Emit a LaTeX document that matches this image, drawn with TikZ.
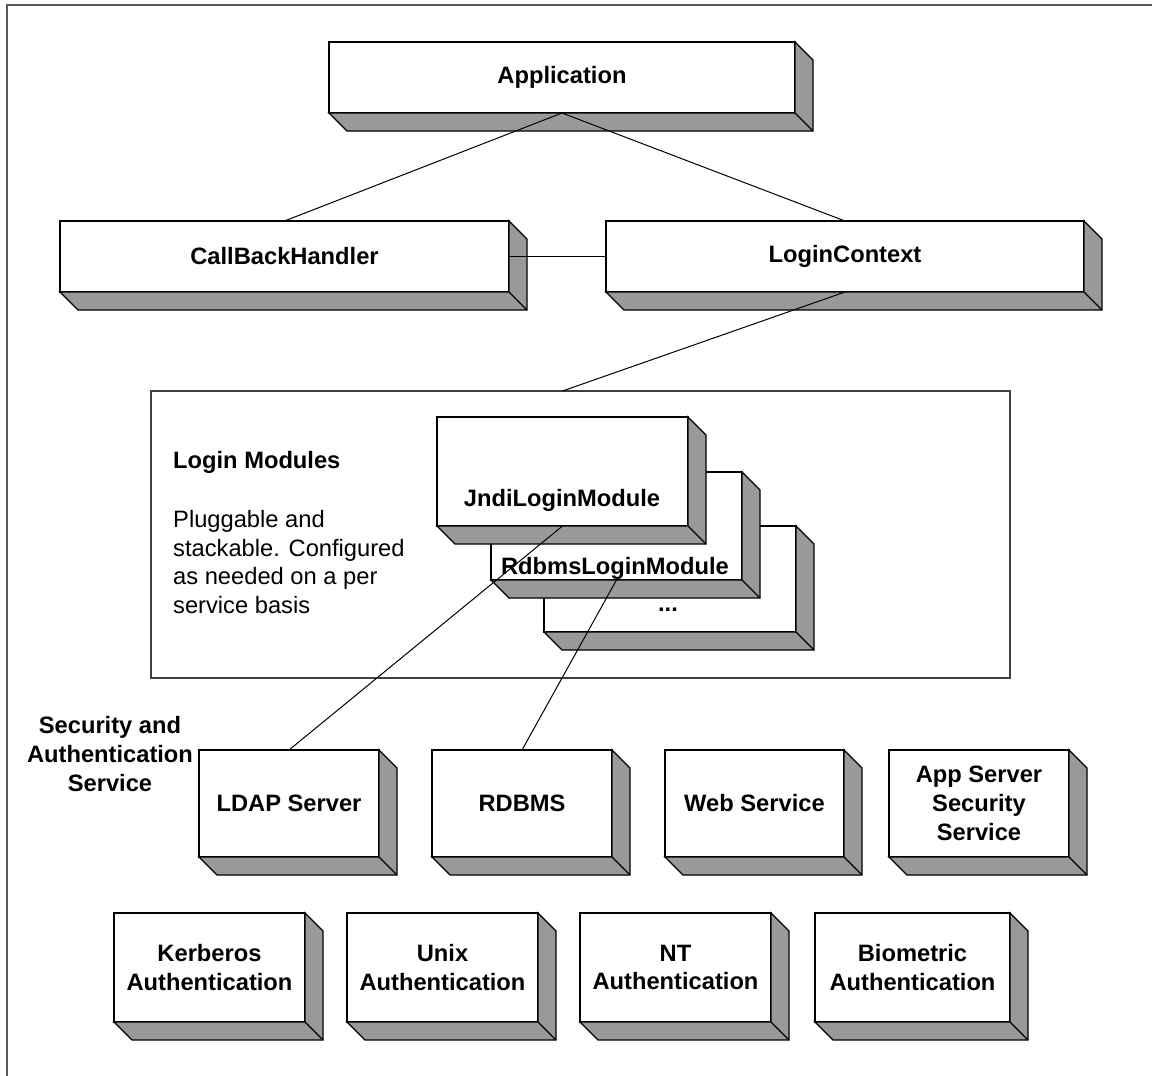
\documentclass[tikz,border=0pt]{standalone}
\usepackage{fontspec}
\setmainfont{Liberation Sans}
\usetikzlibrary{calc}
\definecolor{shadegray}{HTML}{999999}
\tikzset{
  frontbox/.style={draw=black, line width=1.3pt, fill=white, inner sep=0pt, outer sep=0pt,
    font=\bfseries\fontsize{23.7}{28.7}\selectfont, align=center},
  sidefill/.style={fill=shadegray, draw=black, line width=1.3pt, line join=miter},
  conn/.style={draw=black, line width=1pt},
  lbl/.style={font=\bfseries\fontsize{23.7}{28.7}\selectfont, align=center, inner sep=0pt},
  plain/.style={font=\fontsize{23.7}{28.7}\selectfont, align=left, inner sep=0pt},
  container/.style={draw=black!75, line width=1.2pt, inner sep=0pt, outer sep=0pt, fill=white},
}
\newcommand{\tdbox}[6]{%
  \node[frontbox, minimum width={#4-#2}, minimum height={#5-#3}] (#1) at ({(#2+#4)/2},{(#3+#5)/2}) {#6};
  \draw[sidefill] (#1.south west) -- ++(18,18) -- ($(#1.south east)+(18,18)$) -- ($(#1.north east)+(18,18)$) -- (#1.north east) -- (#1.south east) -- cycle;
  \draw[sidefill] (#1.south east) -- ++(18,18);
}
\begin{document}
\begin{tikzpicture}[x=1pt,y=-1pt]
\useasboundingbox (0,0) rectangle (1152,1076);
\fill[white] (0,0) rectangle (1152,1076);
\draw[line width=2pt, black!65] (7,1076) -- (7,5) -- (1152,5);

\tdbox{app}{329}{42}{795}{113}{Application}
\tdbox{cbh}{60}{221}{509}{292}{CallBackHandler}
\tdbox{lc}{606}{221}{1084}{292}{LoginContext}

\node[container, minimum width=859, minimum height=287] (lm) at (580.5,534.5) {};
\node[lbl, anchor=west] (lmtitle) at (173,462) {Login Modules};
\node[plain, anchor=west] (lmdesc) at (173,562) {Pluggable and\\stackable. Configured\\as needed on a per\\service basis};

\tdbox{dots}{544}{526}{796}{632}{}
\tdbox{rdbms}{491}{472}{742}{580}{}
\tdbox{jndi}{437}{417}{688}{526}{}
\node[lbl] (jnditxt) at (562,500) {JndiLoginModule};
\node[lbl] (rdbmstxt) at (615,568) {RdbmsLoginModule};
\node[lbl] (dotstxt) at (668,610) {...};

\node[lbl] (sas) at (110,754) {Security and\\Authentication\\Service};

\tdbox{ldap}{199}{750}{379}{857}{LDAP Server}
\tdbox{rdb}{432}{750}{612}{857}{RDBMS}
\tdbox{web}{665}{750}{844}{857}{Web Service}
\tdbox{appsec}{889}{750}{1069}{857}{App Server\\Security\\Service}

\tdbox{kerb}{114}{913}{305}{1022}{Kerberos\\Authentication}
\tdbox{unix}{347}{913}{538}{1022}{Unix\\Authentication}
\tdbox{nt}{580}{913}{771}{1022}{NT\\Authentication}
\tdbox{bio}{815}{913}{1010}{1022}{Biometric\\Authentication}

\draw[conn] (app.south) -- (cbh.north);
\draw[conn] (app.south) -- (lc.north);
\draw[conn] (cbh.east) -- (lc.west);
\draw[conn] (lc.south) -- (jndi.north |- lm.north);
\draw[conn] (jndi.south) -- (ldap.north);
\draw[conn] (rdbms.south) -- (rdb.north);
\end{tikzpicture}
\end{document}
